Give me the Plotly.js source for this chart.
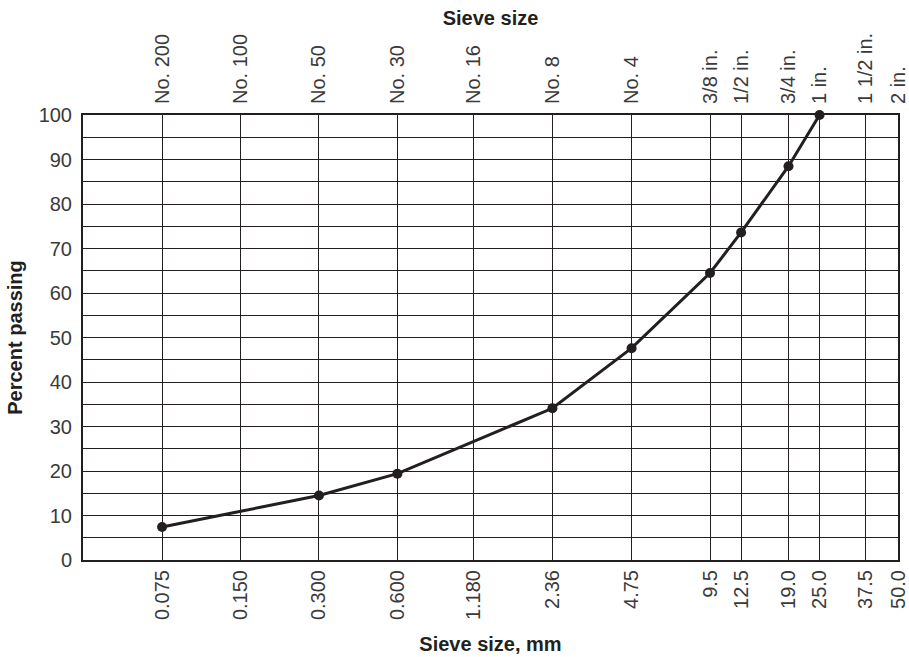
<!DOCTYPE html>
<html>
<head>
<meta charset="utf-8">
<script src="https://cdn.plot.ly/plotly-3.0.1.min.js"></script>
<style>html,body{margin:0;padding:0;background:#fff;}#chart{width:909px;height:657px;}</style>
</head>
<body>
<div id="chart"></div>
<script>
// Sieve sizes (mm) used for grid/tick positions
const sizesMm = [0.075, 0.150, 0.300, 0.600, 1.180, 2.36, 4.75, 9.5, 12.5, 19.0, 25.0, 37.5, 50.0];
const mmLabels = ['0.075', '0.150', '0.300', '0.600', '1.180', '2.36', '4.75', '9.5', '12.5', '19.0', '25.0', '37.5', '50.0'];
const sieveLabels = ['No. 200', 'No. 100', 'No. 50', 'No. 30', 'No. 16', 'No. 8', 'No. 4', '3/8 in.', '1/2 in.', '3/4 in.', '1 in.', '1 1/2 in.', '2 in.'];
// Gradation data
const sampleSizes = [0.075, 0.300, 0.600, 2.36, 4.75, 9.5, 12.5, 19.0, 25.0];
const percentPassing = [7.4, 14.5, 19.4, 34.1, 47.6, 64.5, 73.6, 88.5, 100];
const yTickVals = [0, 10, 20, 30, 40, 50, 60, 70, 80, 90, 100];

const ink = '#231f20';
const tickColor = '#3a3a3a';
const fontFam = '"Liberation Sans", Arial, Helvetica, sans-serif';
const xRange = [Math.log10(0.0373), Math.log10(50)];

const traces = [
  {
    x: sampleSizes, y: percentPassing, xaxis: 'x', yaxis: 'y',
    type: 'scatter', mode: 'lines+markers',
    line: {color: ink, width: 3},
    marker: {color: ink, size: 10},
    cliponaxis: false, showlegend: false
  },
  {
    x: sampleSizes, y: percentPassing, xaxis: 'x2', yaxis: 'y',
    type: 'scatter', mode: 'markers',
    marker: {opacity: 0}, hoverinfo: 'skip', showlegend: false
  }
];

const layout = {
  width: 909, height: 657,
  margin: {l: 83, r: 11, t: 115, b: 97, pad: 0},
  paper_bgcolor: '#fff', plot_bgcolor: '#fff',
  font: {family: fontFam, color: tickColor, size: 20},
  showlegend: false,
  xaxis: {
    type: 'log', range: xRange,
    tickmode: 'array', tickvals: sizesMm, ticktext: mmLabels,
    tickangle: -90, ticks: '', ticklabelstandoff: 0,
    tickfont: {family: fontFam, size: 20, color: tickColor},
    showgrid: true, gridcolor: ink, gridwidth: 1,
    showline: true, linecolor: ink, linewidth: 2, mirror: true,
    zeroline: false,
    title: {text: 'Sieve size, mm', font: {family: fontFam, size: 20, color: ink, weight: 'bold'}, standoff: 18}
  },
  xaxis2: {
    type: 'log', range: xRange, overlaying: 'x', side: 'top', anchor: 'y',
    tickmode: 'array', tickvals: sizesMm, ticktext: sieveLabels,
    tickangle: -90, ticks: '', ticklabelstandoff: 10,
    tickfont: {family: fontFam, size: 20, color: tickColor},
    showgrid: false, showline: false, zeroline: false,
    title: {text: 'Sieve size', font: {family: fontFam, size: 20, color: ink, weight: 'bold'}, standoff: 1}
  },
  yaxis: {
    range: [0, 100],
    tickmode: 'array', tickvals: yTickVals,
    ticks: '', ticklabelstandoff: 5,
    tickfont: {family: fontFam, size: 20, color: tickColor},
    showgrid: true, gridcolor: ink, gridwidth: 1,
    minor: {dtick: 5, tick0: 0, showgrid: true, gridcolor: ink, gridwidth: 1, ticks: ''},
    showline: true, linecolor: ink, linewidth: 2, mirror: true,
    zeroline: false,
    title: {text: 'Percent passing', font: {family: fontFam, size: 20, color: ink, weight: 'bold'}, standoff: 11}
  }
};

Plotly.newPlot('chart', traces, layout, {displayModeBar: false, staticPlot: true});
</script>
</body>
</html>
